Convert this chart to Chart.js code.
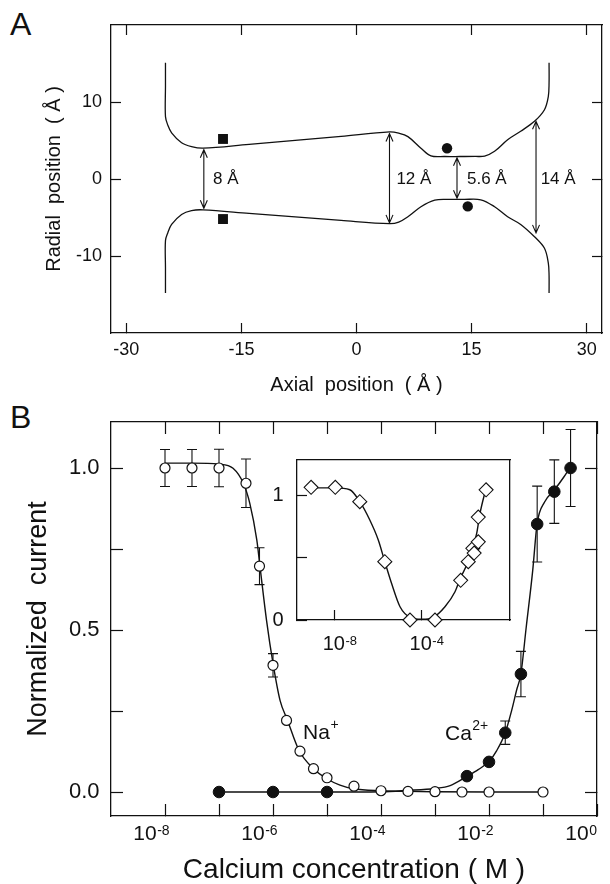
<!DOCTYPE html>
<html>
<head>
<meta charset="utf-8">
<script src="https://cdn.jsdelivr.net/npm/chart.js@4.4.1/dist/chart.umd.min.js"></script>
<style>
  html, body { margin: 0; padding: 0; background: #ffffff; }
  #wrap { position: relative; width: 610px; height: 884px; overflow: hidden; background: #ffffff; }
  #wrap canvas { position: absolute; }
  .panel { position: absolute; font-family: "Liberation Sans", Arial, sans-serif; font-size: 32px; line-height: 32px; color: #111; }
</style>
</head>
<body>
<div id="wrap">
  <div class="panel" style="left:10px; top:8px;">A</div>
  <div class="panel" style="left:10px; top:401px;">B</div>
  <canvas id="chartA" width="610" height="410" style="left:0; top:0; width:610px; height:410px;"></canvas>
  <canvas id="chartB" width="610" height="484" style="left:0; top:400px; width:610px; height:484px;"></canvas>
  <canvas id="chartInset" width="300" height="215" style="left:230px; top:445px; width:300px; height:215px;"></canvas>
</div>
<script>
// ================= Panel A : pore profile =================
const axialTicks  = [-30, -15, 0, 15, 30];
const radialTicks = [-10, 0, 10];

const upperWallX = [-24.9, -24.9, -24.9, -24.6, -24.1, -22.8, -21.5, -20.0, -14.0, -8.0, -2.0, 4.3, 5.5, 6.7, 8.4, 9.7, 11.5, 13.5, 15.5, 16.7, 18.0, 19.7, 21.4, 23.2, 24.5, 25.0, 25.1, 25.1];
const upperWallY = [15.1, 12.0, 8.1, 7.0, 6.0, 4.7, 4.2, 4.0, 4.51, 5.02, 5.54, 6.12, 5.95, 5.5, 4.0, 3.0, 2.92, 2.92, 2.93, 2.98, 3.6, 5.1, 6.2, 7.5, 9.0, 10.7, 12.5, 15.1];
const lowerWallX = [-24.9, -24.9, -24.9, -24.6, -24.1, -22.8, -21.5, -20.0, -14.0, -8.0, -2.0, 4.3, 5.5, 6.7, 8.4, 10.2, 12.0, 14.0, 16.2, 18.0, 19.7, 21.4, 23.2, 24.5, 25.0, 25.1, 25.1];
const lowerWallY = [-14.8, -11.5, -8.0, -7.0, -5.9, -4.6, -4.1, -4.0, -4.46, -4.92, -5.38, -5.8, -5.6, -4.9, -3.6, -2.75, -2.65, -2.65, -2.7, -3.6, -4.9, -5.9, -7.5, -9.0, -10.9, -12.5, -14.8];

const squareSiteX = [-17.4, -17.4];
const squareSiteY = [5.2, -5.2];
const circleSiteX = [11.8, 14.5];
const circleSiteY = [4.0, -3.56];

const gapArrowX      = [-19.9, 4.3, 13.1, 23.4];
const gapArrowTop    = [3.8, 5.9, 2.75, 7.5];
const gapArrowBottom = [-3.8, -5.7, -2.5, -7.0];
const gapLabels      = ['8 Å', '12 Å', '5.6 Å', '14 Å'];
const gapLabelX      = [-18.7, 5.2, 14.4, 24.0];

// ================= Panel B : current vs calcium =================
const concTicks      = [1e-8, 1e-7, 1e-6, 1e-5, 1e-4, 1e-3, 1e-2, 1e-1, 1e0];
const concTickBase   = ['10', '', '10', '', '10', '', '10', '', '10'];
const concTickExp    = ['-8', '', '-6', '', '-4', '', '-2', '', '0'];
const currentTicks      = [0, 0.25, 0.5, 0.75, 1.0];
const currentTickLabels = ['0.0', '', '0.5', '', '1.0'];

const naConc    = [1e-8, 3.16e-8, 1e-7, 3.16e-7, 5.62e-7, 1e-6, 1.78e-6, 3.16e-6, 5.62e-6, 1e-5, 3.16e-5, 1e-4, 3.16e-4, 1e-3, 3.16e-3, 1e-2, 1e-1];
const naCurrent = [1.0, 1.0, 1.0, 0.953, 0.697, 0.391, 0.221, 0.126, 0.072, 0.044, 0.018, 0.004, 0.002, 0.001, 0.0, 0.0, 0.0];
const naErr     = [0.057, 0.057, 0.058, 0.075, 0.057, 0.036, 0, 0, 0, 0, 0, 0, 0, 0, 0, 0, 0];

const caConc    = [1e-7, 1e-6, 1e-5, 3.9e-3, 1e-2, 2e-2, 3.9e-2, 7.8e-2, 0.162, 0.324];
const caCurrent = [0.0, 0.0, 0.0, 0.049, 0.093, 0.183, 0.364, 0.827, 0.927, 1.0];
const caErr     = [0, 0, 0, 0, 0, 0.036, 0.07, 0.117, 0.098, 0.119];

const naFitConc = [1e-8, 3.16e-8, 1e-7, 1.82e-7, 2.82e-7, 3.72e-7, 5.01e-7, 5.75e-7, 7.59e-7, 1e-6, 1.35e-6, 1.86e-6, 3.02e-6, 5.62e-6, 1e-5, 1.74e-5, 3.09e-5, 1e-4, 3.16e-4, 1e-3, 1e-2, 1e-1];
const naFitVal  = [1.015, 1.015, 1.012, 0.999, 0.953, 0.891, 0.778, 0.695, 0.530, 0.397, 0.283, 0.221, 0.129, 0.072, 0.041, 0.021, 0.010, 0.004, 0.002, 0.001, 0.0, 0.0];
const caFitConc = [1e-7, 1e-5, 1e-4, 3.02e-4, 1e-3, 1.91e-3, 3.89e-3, 6.31e-3, 1e-2, 1.38e-2, 2e-2, 2.63e-2, 3.24e-2, 3.89e-2, 4.9e-2, 6.46e-2, 7.76e-2, 0.107, 0.162, 0.245, 0.324];
const caFitVal  = [0.0, 0.0, 0.001, 0.005, 0.011, 0.02, 0.048, 0.069, 0.094, 0.127, 0.183, 0.252, 0.314, 0.364, 0.51, 0.685, 0.827, 0.895, 0.932, 0.973, 1.004];

const ionLabelConc = [3.6e-6, 1.53e-3];
const ionLabelY    = [0.165, 0.16];
const ionLabelBase = ['Na', 'Ca'];
const ionLabelSup  = ['+', '2+'];

// ================= Inset =================
const insetTicks     = [1e-8, 1e-4];
const insetTickBase  = ['10', '10'];
const insetTickExp   = ['-8', '-4'];
const insetYTicks      = [0, 0.5, 1];
const insetYTickLabels = ['0', '', '1'];
const insetConc  = [8.1e-10, 1.05e-8, 1.41e-7, 2.0e-6, 2.88e-5, 4.07e-4, 6.17e-3, 1.38e-2, 2.24e-2, 2.57e-2, 3.98e-2, 3.98e-2, 9.12e-2];
const insetValue = [1.07, 1.07, 0.954, 0.47, 0.0, 0.0, 0.32, 0.47, 0.578, 0.54, 0.63, 0.83, 1.05];
const insetFitConc = [8.1e-10, 1e-8, 4.9e-8, 1.41e-7, 4.07e-7, 1e-6, 2e-6, 4.07e-6, 1e-5, 2.88e-5, 1e-4, 3.39e-4, 1.17e-3, 3.39e-3, 5.75e-3, 1.7e-2, 3.39e-2, 4.79e-2, 9.12e-2];
const insetFitVal  = [1.065, 1.065, 1.05, 0.954, 0.806, 0.645, 0.47, 0.296, 0.107, 0.022, 0.006, 0.022, 0.107, 0.228, 0.33, 0.51, 0.70, 0.86, 1.065];

// ================= helpers =================
const FONT = '"Liberation Sans", Arial, Helvetica, sans-serif';
const INK = '#111111';
const pts = (xs, ys) => xs.map((x, i) => ({ x: x, y: ys[i] }));
const setTicks = values => s => { s.ticks = values.map(v => ({ value: v })); };
const axisFit = (size, horizontal) => s => {
  if (horizontal) s.height = size; else s.width = size;
  s.paddingLeft = 0; s.paddingRight = 0; s.paddingTop = 0; s.paddingBottom = 0;
};
const gridIn = len => ({ display: true, drawOnChartArea: false, drawTicks: true, tickLength: -len, tickColor: INK, tickWidth: 1.2, color: INK });
const borderOn = { display: true, color: INK, width: 1.3 };
const baseOpts = {
  responsive: false, animation: false, devicePixelRatio: 1,
  layout: { padding: 0 },
  plugins: { legend: { display: false }, tooltip: { enabled: false } }
};

// draws the exponent of "10^n" tick labels next to the library's own label items
const exponentPlugin = (axisId, exps, size, rise) => ({
  id: 'exp_' + axisId,
  afterDraw(chart) {
    const scale = chart.scales[axisId];
    const items = scale.getLabelItems();
    const { ctx } = chart;
    ctx.save();
    ctx.fillStyle = INK; ctx.textAlign = 'left'; ctx.textBaseline = 'alphabetic';
    items.forEach((item, i) => {
      const exp = exps[i];
      if (!exp) return;
      const [tx, ty] = item.options.translation;
      ctx.font = item.font.string;
      const w = ctx.measureText(item.label).width;
      ctx.font = size + 'px ' + FONT;
      ctx.fillText(exp, tx + w / 2 + 0.5, ty + item.textOffset + rise);
    });
    ctx.restore();
  }
});

// ---------- Panel A chart ----------
const arrowPlugin = {
  id: 'gapArrows',
  afterDatasetsDraw(chart) {
    const { ctx, scales: { x, y } } = chart;
    ctx.save();
    ctx.strokeStyle = INK; ctx.fillStyle = INK; ctx.lineWidth = 1.1;
    gapArrowX.forEach((gx, i) => {
      const px = x.getPixelForValue(gx);
      const t = y.getPixelForValue(gapArrowTop[i]);
      const b = y.getPixelForValue(gapArrowBottom[i]);
      ctx.beginPath();
      ctx.moveTo(px, t); ctx.lineTo(px, b);
      ctx.moveTo(px - 3.5, t + 8); ctx.lineTo(px, t); ctx.lineTo(px + 3.5, t + 8);
      ctx.moveTo(px - 3.5, b - 8); ctx.lineTo(px, b); ctx.lineTo(px + 3.5, b - 8);
      ctx.stroke();
      ctx.font = '17px ' + FONT; ctx.textAlign = 'left'; ctx.textBaseline = 'middle';
      ctx.fillText(gapLabels[i], x.getPixelForValue(gapLabelX[i]), y.getPixelForValue(0));
    });
    ctx.restore();
  }
};

new Chart(document.getElementById('chartA'), {
  type: 'scatter',
  data: { datasets: [
    { data: pts(squareSiteX, squareSiteY), pointStyle: 'rect', pointRadius: 7, backgroundColor: INK, borderWidth: 0 },
    { data: pts(circleSiteX, circleSiteY), pointStyle: 'circle', pointRadius: 5.2, backgroundColor: INK, borderWidth: 0 },
    { data: pts(upperWallX, upperWallY), showLine: true, tension: 0.35, borderColor: INK, borderWidth: 1.3, pointRadius: 0, fill: false },
    { data: pts(lowerWallX, lowerWallY), showLine: true, tension: 0.35, borderColor: INK, borderWidth: 1.3, pointRadius: 0, fill: false }
  ]},
  options: Object.assign({}, baseOpts, {
    scales: {
      x: { type: 'linear', position: 'bottom', min: -32, max: 32,
           afterBuildTicks: setTicks(axialTicks), afterFit: axisFit(77, true),
           ticks: { autoSkip: false, maxRotation: 0, minRotation: 0, padding: 16, color: INK, font: { family: FONT, size: 18 }, callback: v => String(v) },
           grid: gridIn(10), border: borderOn,
           title: { display: true, text: 'Axial  position  ( Å )', color: INK, font: { family: FONT, size: 20 }, padding: { top: 0, bottom: 13 } } },
      x2: { type: 'linear', position: 'top', min: -32, max: 32,
            afterBuildTicks: setTicks(axialTicks), afterFit: axisFit(25, true),
            ticks: { display: false }, grid: gridIn(10), border: borderOn },
      y: { type: 'linear', position: 'left', min: -20, max: 20,
           afterBuildTicks: setTicks(radialTicks), afterFit: axisFit(111, false),
           ticks: { autoSkip: false, padding: 19, color: INK, font: { family: FONT, size: 18 }, callback: v => String(v) },
           grid: gridIn(10), border: borderOn,
           title: { display: true, text: 'Radial  position  ( Å )', color: INK, font: { family: FONT, size: 20 }, padding: { top: 42, bottom: 0 } } },
      y2: { type: 'linear', position: 'right', min: -20, max: 20,
            afterBuildTicks: setTicks(radialTicks), afterFit: axisFit(8, false),
            ticks: { display: false }, grid: gridIn(10), border: borderOn }
    }
  }),
  plugins: [arrowPlugin]
});

// ---------- Panel B chart ----------
const errorBarPlugin = {
  id: 'errorBars',
  beforeDatasetsDraw(chart) {
    const { ctx, scales: { x, y } } = chart;
    ctx.save();
    ctx.strokeStyle = INK; ctx.lineWidth = 1.1;
    const draw = (conc, vals, errs) => conc.forEach((c, i) => {
      const e = errs[i];
      if (!e) return;
      const px = x.getPixelForValue(c);
      const t = y.getPixelForValue(vals[i] + e);
      const b = y.getPixelForValue(vals[i] - e);
      ctx.beginPath();
      ctx.moveTo(px, t); ctx.lineTo(px, b);
      ctx.moveTo(px - 5, t); ctx.lineTo(px + 5, t);
      ctx.moveTo(px - 5, b); ctx.lineTo(px + 5, b);
      ctx.stroke();
    });
    draw(naConc, naCurrent, naErr);
    draw(caConc, caCurrent, caErr);
    ctx.restore();
  }
};
const ionLabelPlugin = {
  id: 'ionLabels',
  afterDatasetsDraw(chart) {
    const { ctx, scales: { x, y } } = chart;
    ctx.save();
    ctx.fillStyle = INK; ctx.textAlign = 'left'; ctx.textBaseline = 'alphabetic';
    ionLabelConc.forEach((c, i) => {
      const px = x.getPixelForValue(c), py = y.getPixelForValue(ionLabelY[i]);
      ctx.font = '21px ' + FONT;
      ctx.fillText(ionLabelBase[i], px, py);
      const w = ctx.measureText(ionLabelBase[i]).width;
      ctx.font = '14px ' + FONT;
      ctx.fillText(ionLabelSup[i], px + w + 0.5, py - 10);
    });
    ctx.restore();
  }
};

new Chart(document.getElementById('chartB'), {
  type: 'scatter',
  data: { datasets: [
    { data: pts(naConc, naCurrent), pointStyle: 'circle', pointRadius: 5, backgroundColor: '#ffffff', borderColor: INK, borderWidth: 1.2 },
    { data: pts(caConc, caCurrent), pointStyle: 'circle', pointRadius: 5.8, backgroundColor: INK, borderColor: INK, borderWidth: 1 },
    { data: pts(naFitConc, naFitVal), showLine: true, cubicInterpolationMode: 'monotone', borderColor: INK, borderWidth: 1.4, pointRadius: 0, fill: false },
    { data: pts(caFitConc, caFitVal), showLine: true, cubicInterpolationMode: 'monotone', borderColor: INK, borderWidth: 1.4, pointRadius: 0, fill: false }
  ]},
  options: Object.assign({}, baseOpts, {
    scales: {
      x: { type: 'logarithmic', position: 'bottom', min: 1e-9, max: 1,
           afterBuildTicks: setTicks(concTicks), afterFit: axisFit(68, true),
           ticks: { autoSkip: false, maxRotation: 0, minRotation: 0, padding: 17.7, labelOffset: -20, color: INK, font: { family: FONT, size: 21 }, callback: (v, i) => concTickBase[i] },
           grid: gridIn(12), border: borderOn,
           title: { display: true, text: 'Calcium concentration ( M )', color: INK, font: { family: FONT, size: 28 }, padding: { top: 0, bottom: -3 } } },
      x2: { type: 'logarithmic', position: 'top', min: 1e-9, max: 1,
            afterBuildTicks: setTicks(concTicks), afterFit: axisFit(22, true),
            ticks: { display: false }, grid: gridIn(12), border: borderOn },
      y: { type: 'linear', position: 'left', min: -0.074, max: 1.142,
           afterBuildTicks: setTicks(currentTicks), afterFit: axisFit(111, false),
           ticks: { autoSkip: false, padding: 23.5, color: INK, font: { family: FONT, size: 22 }, callback: (v, i) => currentTickLabels[i] },
           grid: gridIn(12), border: borderOn,
           title: { display: true, text: 'Normalized  current', color: INK, font: { family: FONT, size: 27 }, padding: { top: 22, bottom: 0 } } },
      y2: { type: 'linear', position: 'right', min: -0.074, max: 1.142,
            afterBuildTicks: setTicks(currentTicks), afterFit: axisFit(13, false),
            ticks: { display: false }, grid: gridIn(12), border: borderOn }
    }
  }),
  plugins: [errorBarPlugin, ionLabelPlugin, exponentPlugin('x', concTickExp, 14, 0.7)]
});

// ---------- Inset chart ----------
new Chart(document.getElementById('chartInset'), {
  type: 'scatter',
  data: { datasets: [
    { data: pts(insetConc, insetValue), pointStyle: 'rectRot', pointRadius: 7, backgroundColor: '#ffffff', borderColor: INK, borderWidth: 1.1, clip: false },
    { data: pts(insetFitConc, insetFitVal), showLine: true, cubicInterpolationMode: 'monotone', borderColor: INK, borderWidth: 1.4, pointRadius: 0, fill: false, clip: false }
  ]},
  options: Object.assign({}, baseOpts, {
    scales: {
      x: { type: 'logarithmic', position: 'bottom', min: 1.82e-10, max: 1.15,
           afterBuildTicks: setTicks(insetTicks), afterFit: axisFit(40, true),
           ticks: { autoSkip: false, maxRotation: 0, minRotation: 0, padding: 22.7, labelOffset: -1, color: INK, font: { family: FONT, size: 20 }, callback: (v, i) => insetTickBase[i] },
           grid: gridIn(10), border: borderOn },
      x2: { type: 'logarithmic', position: 'top', min: 1.82e-10, max: 1.15,
            afterFit: axisFit(15, true), ticks: { display: false }, grid: { display: false }, border: borderOn },
      y: { type: 'linear', position: 'left', min: 0, max: 1.29,
           afterBuildTicks: setTicks(insetYTicks), afterFit: axisFit(67, false),
           ticks: { autoSkip: false, padding: 23.5, color: INK, font: { family: FONT, size: 20 }, callback: (v, i) => insetYTickLabels[i] },
           grid: gridIn(10), border: borderOn },
      y2: { type: 'linear', position: 'right', min: 0, max: 1.29,
            afterFit: axisFit(20, false), ticks: { display: false }, grid: { display: false }, border: borderOn }
    }
  }),
  plugins: [exponentPlugin('x', insetTickExp, 13, 0)]
});
</script>
</body>
</html>
